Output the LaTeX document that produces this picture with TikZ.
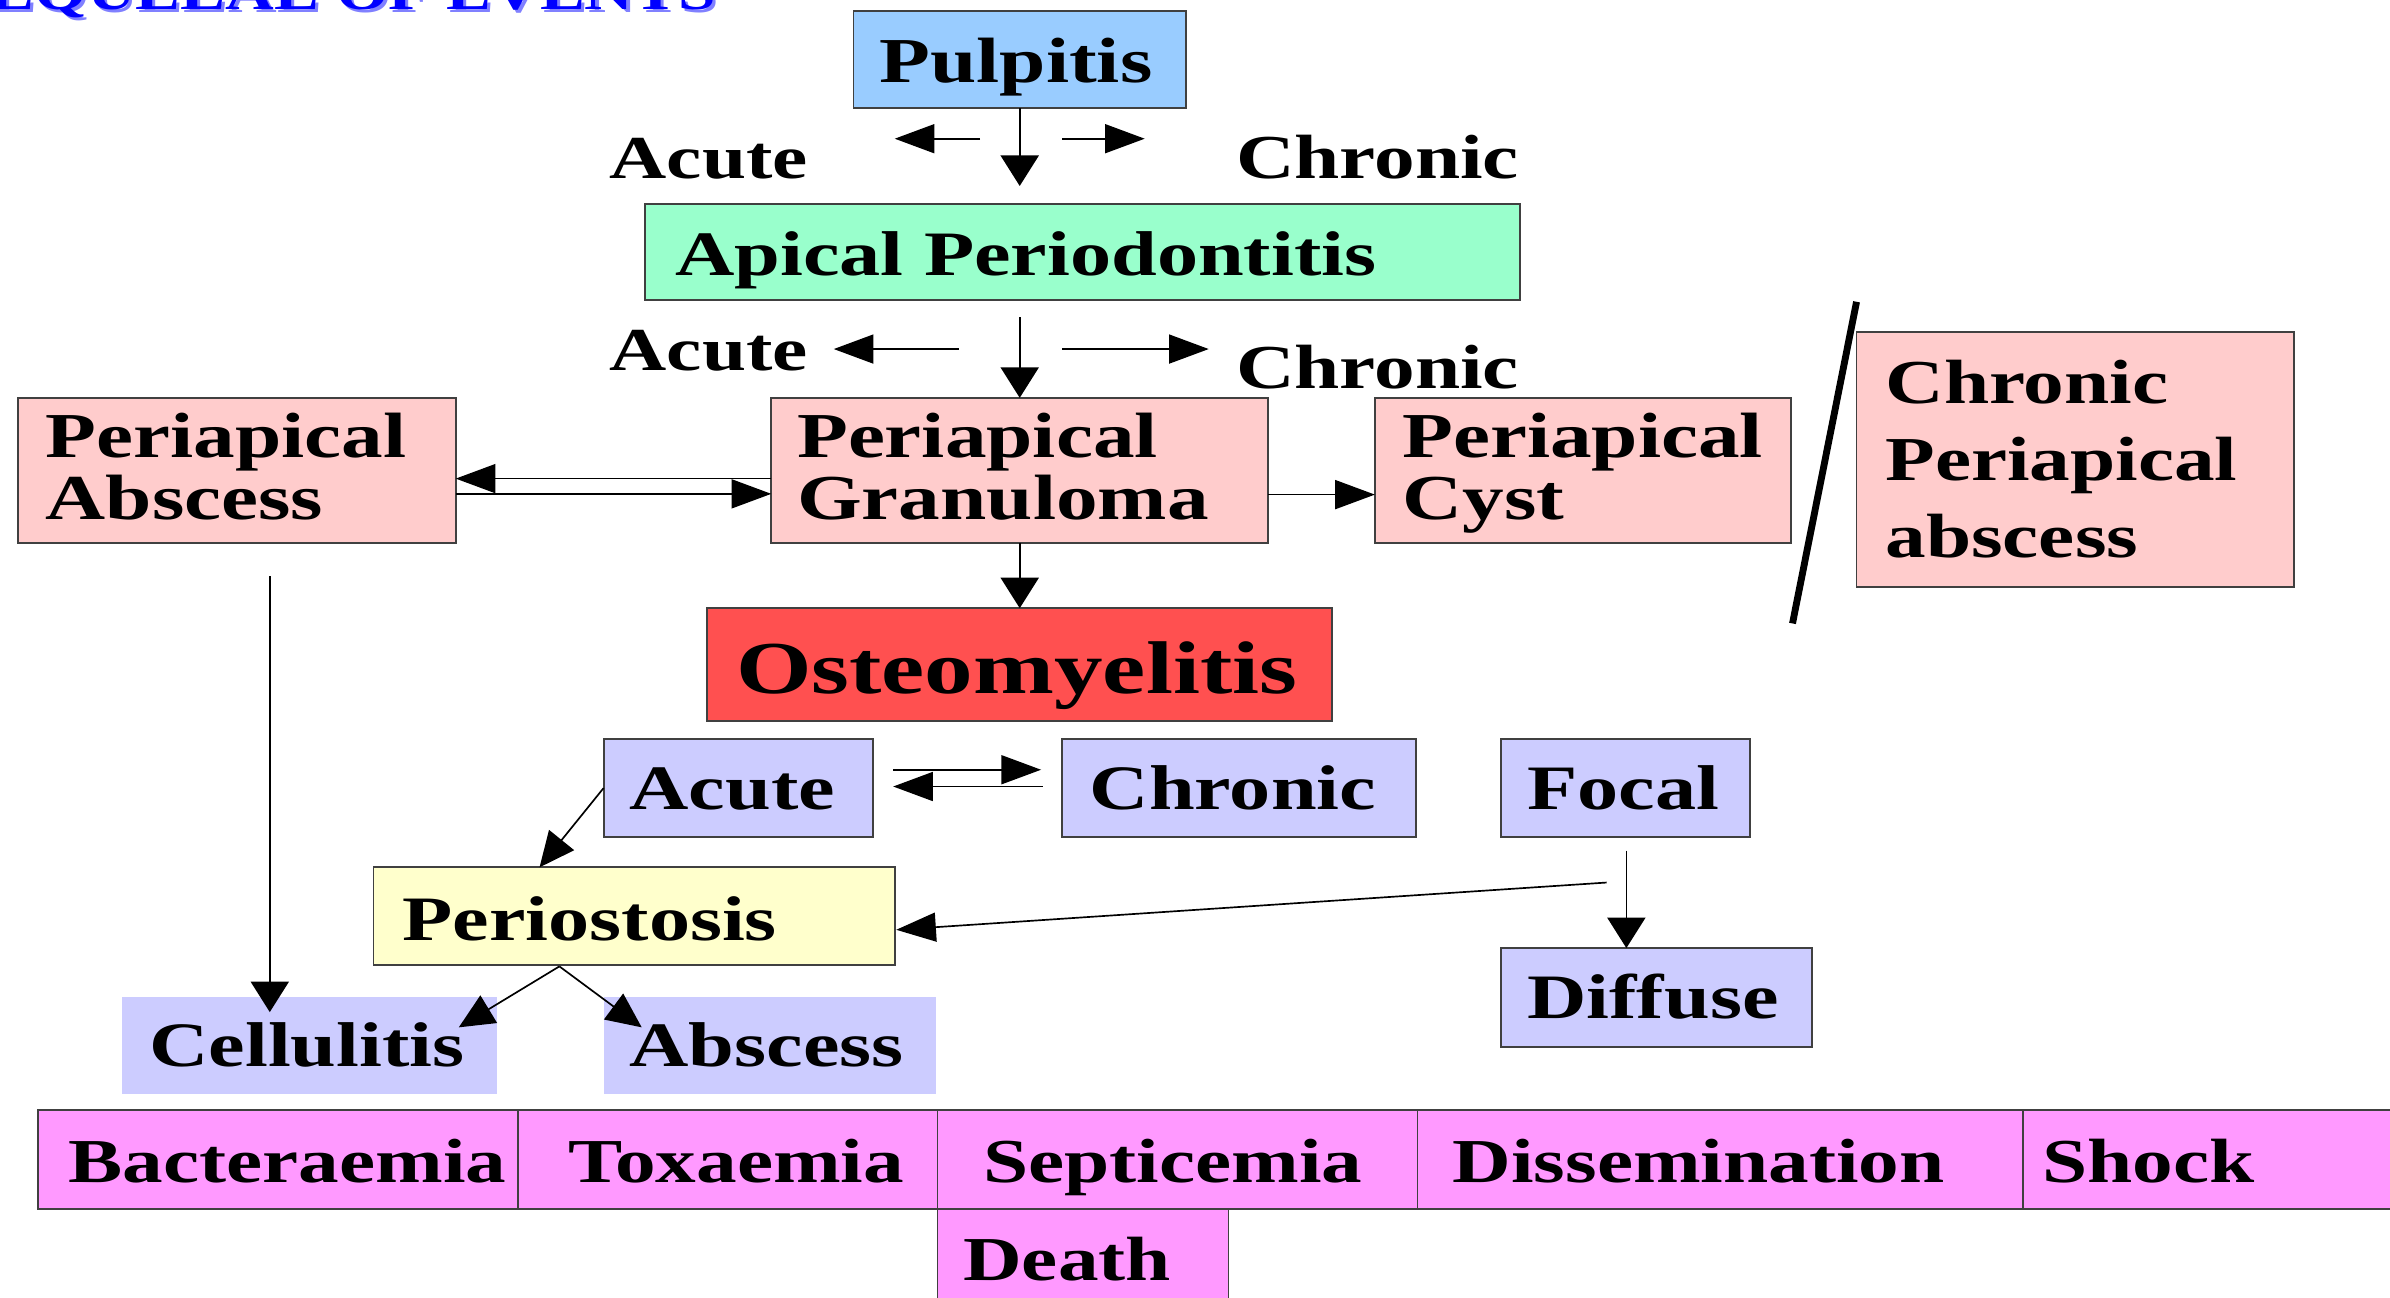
\documentclass[tikz,border=0pt]{standalone}
\usepackage{fontspec}
\setmainfont{Liberation Serif}[FakeStretch=1.3]
\usetikzlibrary{arrows.meta,fit}
\definecolor{cblue}{HTML}{99CCFF}
\definecolor{cmint}{HTML}{99FFCC}
\definecolor{cpink}{HTML}{FFCCCC}
\definecolor{cred}{HTML}{FF5050}
\definecolor{clav}{HTML}{CCCCFF}
\definecolor{cyel}{HTML}{FFFFCC}
\definecolor{cmag}{HTML}{FF99FF}
\definecolor{ctitle}{HTML}{0000FF}
\definecolor{cshadow}{HTML}{8080FF}
\newcommand\fsz[1]{\fontsize{#1}{#1}\selectfont}
\tikzset{
  box/.style={draw=black!75, line width=1.2pt, inner sep=0pt, outer sep=0pt},
  flat/.style={draw=none, inner sep=0pt, outer sep=0pt},
  txt/.style={anchor=base west, inner sep=0pt, outer sep=0pt, font=\bfseries\fsz{42}},
  conn/.style={line width=1.1pt, black},
  varr/.style={conn, -{Triangle[length=20pt,width=25pt]}},
  harr/.style={conn, -{Triangle[length=26pt,width=19pt]}},
  darr/.style={conn, -{Triangle[length=23pt,width=21pt]}},
}
\begin{document}
\begin{tikzpicture}[x=1pt,y=-1pt]
\useasboundingbox (0,0) rectangle (1568,851);
\clip (0,0) rectangle (1568,851);
\fill[white] (0,0) rectangle (1568,851);

% title (cut off at the top)
\node[anchor=base east, inner sep=0pt, font=\bfseries\fsz{34}, text=cshadow] (titleshadow) at (472,8) {SEQUELAE OF EVENTS};
\node[anchor=base east, inner sep=0pt, font=\bfseries\fsz{34}, text=ctitle] (title) at (470,6) {SEQUELAE OF EVENTS};

% boxes
\node[box, fill=cblue, fit={(560,7)(778,71)}] (pulp) {};
\node[box, fill=cmint, fit={(423,134)(997,197)}] (apical) {};
\node[box, fill=cpink, fit={(12,261)(299,356)}] (pabs) {};
\node[box, fill=cpink, fit={(506,261)(832,356)}] (gran) {};
\node[box, fill=cpink, fit={(902,261)(1175,356)}] (cyst) {};
\node[box, fill=cpink, fit={(1218,218)(1505,385)}] (cpa) {};
\node[box, fill=cred, fit={(464,399)(874,473)}] (osteo) {};
\node[box, fill=clav, fit={(396,485)(573,549)}] (acute) {};
\node[box, fill=clav, fit={(697,485)(929,549)}] (chronic) {};
\node[box, fill=clav, fit={(985,485)(1148,549)}] (focal) {};
\node[box, fill=cyel, fit={(245,569)(587,633)}] (periost) {};
\node[box, fill=clav, fit={(985,622)(1189,687)}] (diffuse) {};
\node[flat, fill=clav, fit={(80,654)(326,718)}] (cell) {};
\node[flat, fill=clav, fit={(396,654)(614,718)}] (abs) {};
\node[box, fill=cmag, fit={(25,728)(340,793)}] (bact) {};
\node[box, fill=cmag, fit={(340,728)(615,793)}] (tox) {};
\node[box, fill=cmag, fit={(615,728)(930,793)}] (sept) {};
\node[box, fill=cmag, fit={(930,728)(1327,793)}] (diss) {};
\node[box, fill=cmag, fit={(1327,728)(1590,793)}] (shock) {};
\node[box, fill=cmag, fit={(615,793)(806,880)}] (death) {};

% texts
\node[txt] (tpulp) at (577,54) {Pulpitis};
\node[txt, font=\bfseries\fsz{40}] (tac1) at (400,117) {Acute};
\node[txt, font=\bfseries\fsz{41}] (tch1) at (811,117) {Chronic};
\node[txt, font=\bfseries\fsz{41.5}] (tapical) at (443,181) {Apical Periodontitis};
\node[txt, font=\bfseries\fsz{40}] (tac2) at (400,243) {Acute};
\node[txt, font=\bfseries\fsz{41}] (tch2) at (811,255) {Chronic};
\node[txt] (tpabs) at (30,300) {\vtop{\baselineskip=41pt\hbox{Periapical}\hbox{Abscess}}};
\node[txt] (tgran) at (523,300) {\vtop{\baselineskip=41pt\hbox{Periapical}\hbox{Granuloma}}};
\node[txt] (tcyst) at (920,300) {\vtop{\baselineskip=41pt\hbox{Periapical}\hbox{Cyst}}};
\node[txt, font=\bfseries\fsz{41}] (tcpa) at (1237,265) {\vtop{\baselineskip=50.5pt\hbox{Chronic}\hbox{Periapical}\hbox{abscess}}};
\node[txt, font=\bfseries\fsz{49}] (tosteo) at (483,455) {Osteomyelitis};
\node[txt, font=\bfseries\fsz{41.5}] (tacute) at (413,531) {Acute};
\node[txt, font=\bfseries\fsz{41.5}] (tchronic) at (715,531) {Chronic};
\node[txt, font=\bfseries\fsz{41.5}] (tfocal) at (1002,531) {Focal};
\node[txt, font=\bfseries\fsz{41.5}] (tperiost) at (264,617) {Periostosis};
\node[txt, font=\bfseries\fsz{41.5}] (tdiffuse) at (1002,668) {Diffuse};
\node[txt, font=\bfseries\fsz{41.5}] (tcell) at (98,700) {Cellulitis};
\node[txt, font=\bfseries\fsz{41.5}] (tabs) at (413,700) {Abscess};
\node[txt, font=\bfseries\fsz{41}] (tbact) at (45,776) {Bacteraemia};
\node[txt, font=\bfseries\fsz{41}] (ttox) at (373,776) {Toxaemia};
\node[txt, font=\bfseries\fsz{41}] (tsept) at (645,776) {Septicemia};
\node[txt, font=\bfseries\fsz{41}] (tdiss) at (953,776) {Dissemination};
\node[txt, font=\bfseries\fsz{41}] (tshock) at (1340,776) {Shock};
\node[txt, font=\bfseries\fsz{41}] (tdeath) at (632,840) {Death};

% free ends of connectors
\coordinate (p1e) at (669,122);
\coordinate (l1s) at (643,91);
\coordinate (l1e) at (587,91);
\coordinate (r1s) at (697,91);
\coordinate (r1e) at (751,91);
\coordinate (p2s) at (669,208);
\coordinate (l2s) at (629,229);
\coordinate (l2e) at (547,229);
\coordinate (r2s) at (697,229);
\coordinate (r2e) at (793,229);
\coordinate (ac1) at (586,505);
\coordinate (ac2) at (683,505);
\coordinate (ca1) at (684,516);
\coordinate (ca2) at (586,516);
\coordinate (pt) at (354,569);
\coordinate (fs) at (1054,579);
\coordinate (pe) at (588,610);
\coordinate (fd) at (1067,558);
\coordinate (dt) at (1067,622);
\coordinate (cs) at (177,378);
\coordinate (ce) at (177,664);
\coordinate (ps) at (367,634);
\coordinate (pc) at (301,674);
\coordinate (pa) at (421,674);
\coordinate (sl1) at (1218,198);
\coordinate (sl2) at (1176,409);

% connectors
\draw[varr] (pulp.south) -- (p1e);
\draw[harr] (l1s) -- (l1e);
\draw[harr] (r1s) -- (r1e);
\draw[varr] (p2s) -- (gran.north);
\draw[harr] (l2s) -- (l2e);
\draw[harr] (r2s) -- (r2e);
\draw[harr] ([yshift=-5.5pt]gran.west) -- ([yshift=-5.5pt]pabs.east);
\draw[harr] ([yshift=-15.5pt]pabs.east) -- ([yshift=-15.5pt]gran.west);
\draw[harr] ([yshift=-16pt]gran.east) -- ([yshift=-16pt]cyst.west);
\draw[varr] (gran.south) -- (osteo.north);
\draw[harr] (ac1) -- (ac2);
\draw[harr] (ca1) -- (ca2);
\draw[darr] (acute.west) -- (pt);
\draw[harr] (fs) -- (pe);
\draw[varr] (fd) -- (dt);
\draw[varr] (cs) -- (ce);
\draw[darr] (ps) -- (pc);
\draw[darr] (ps) -- (pa);
\draw[line width=4.5pt] (sl1) -- (sl2);
\end{tikzpicture}
\end{document}
